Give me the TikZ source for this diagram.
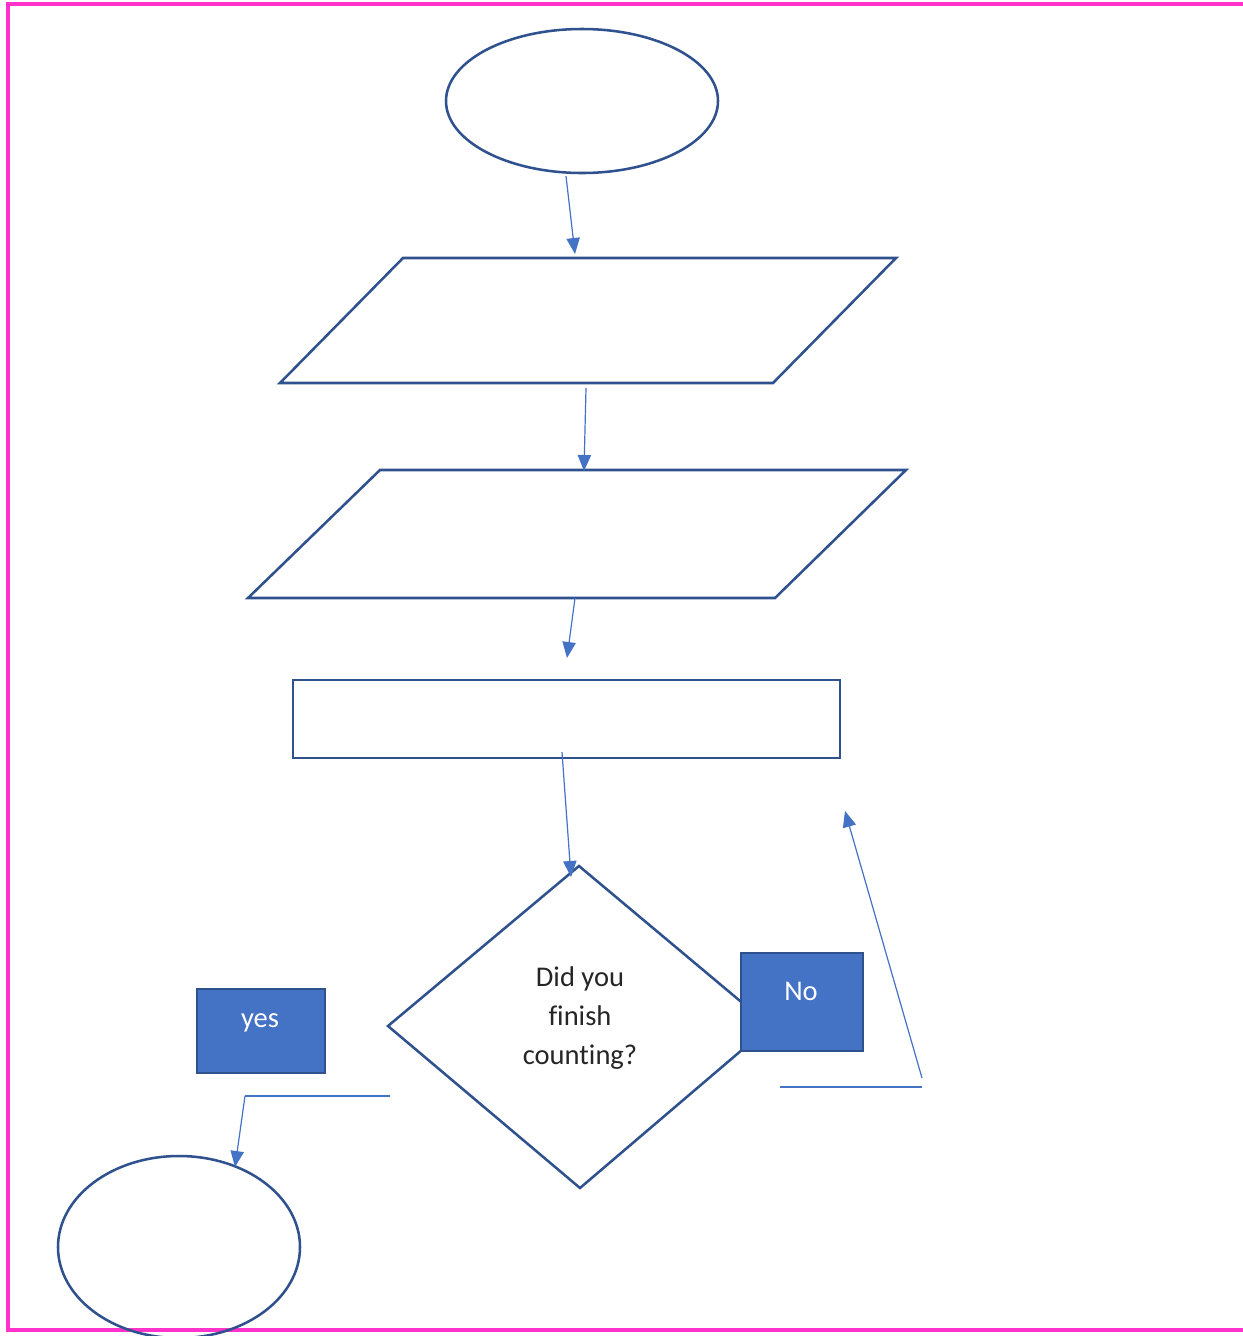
\documentclass[tikz,border=0pt]{standalone}
\usepackage{fontspec}
\setmainfont[Ligatures={NoCommon}]{Carlito}
\usetikzlibrary{shapes.geometric,arrows.meta}
\definecolor{outl}{RGB}{47,82,143}
\definecolor{arr}{RGB}{68,114,196}
\definecolor{fillb}{RGB}{68,114,196}
\definecolor{pink}{RGB}{255,51,204}
\definecolor{txt}{RGB}{38,38,38}
\tikzset{
  shapeline/.style={draw=outl,line width=1.9pt},
  conn/.style={draw=arr,line width=0.9pt,-{Triangle[length=12pt,width=10pt]}},
  plainline/.style={draw=arr,line width=0.9pt},
  ovalnode/.style={shapeline,ellipse,inner sep=0pt},
  bluebox/.style={draw=outl,line width=1.6pt,fill=fillb,inner sep=0pt,text=white,font=\fontsize{21.4pt}{26pt}\selectfont},
  frame/.style={draw=pink,line width=3pt},
}
\begin{document}
\begin{tikzpicture}[x=0.75pt,y=-0.75pt]
\useasboundingbox (0,0) rectangle (1243,1336);
\clip (0,0) rectangle (1243,1336);
\fill[white] (0,0) rectangle (1243,1336);
% frame
\draw[frame] (1243,4) -- (8,4) -- (8,1330) -- (1243,1330);
% shapes
\node[ovalnode,minimum width=272*0.75pt,minimum height=144*0.75pt] (start) at (582,101) {};
\draw[shapeline,line join=miter] (403,258) -- (896,258) -- (773,383) -- (280,383) -- cycle;
\draw[shapeline,line join=miter] (380,470) -- (906,470) -- (775,598) -- (248,598) -- cycle;
\node[shapeline,rectangle,inner sep=0pt,minimum width=547*0.75pt,minimum height=78*0.75pt] (proc) at (566.5,719) {};
\draw[shapeline,line join=miter] (579,866) -- (770,1026) -- (580,1188) -- (388,1026) -- cycle;
\node[text=txt,align=center,font=\fontsize{21.4pt}{29.2pt}\selectfont] (question) at (580,1018) {Did you\\finish\\counting?};
\node[bluebox,minimum width=122*0.75pt,minimum height=98*0.75pt,anchor=north west] (no) at (740,952) {};
\node[text=white,font=\fontsize{21.4pt}{26pt}\selectfont] (notext) at (801,991) {No};
\node[bluebox,minimum width=128*0.75pt,minimum height=84*0.75pt,anchor=north west] (yes) at (196,988) {};
\node[text=white,font=\fontsize{21.4pt}{26pt}\selectfont] (yestext) at (260,1023) {yes};
\node[ovalnode,minimum width=242*0.75pt,minimum height=182*0.75pt] (stop) at (179,1247) {};
% connector end points
\coordinate (a1s) at (566,176);
\coordinate (a1e) at (575,254);
\coordinate (a2s) at (586,388);
\coordinate (a2e) at (584,471);
\coordinate (a3s) at (575,598);
\coordinate (a3e) at (567,658);
\coordinate (a4s) at (562,752);
\coordinate (a4e) at (571,877);
\coordinate (a5s) at (922,1078);
\coordinate (a5e) at (845,811);
\coordinate (l1s) at (780,1087);
\coordinate (l1e) at (922,1087);
\coordinate (l2s) at (390,1096);
\coordinate (l2e) at (245,1096);
\coordinate (a6e) at (235,1167);
% connectors
\draw[conn] (a1s) -- (a1e);
\draw[conn] (a2s) -- (a2e);
\draw[conn] (a3s) -- (a3e);
\draw[conn] (a4s) -- (a4e);
\draw[conn] (a5s) -- (a5e);
\draw[plainline] (l1s) -- (l1e);
\draw[plainline] (l2s) -- (l2e);
\draw[conn] (l2e) -- (a6e);
\end{tikzpicture}
\end{document}
